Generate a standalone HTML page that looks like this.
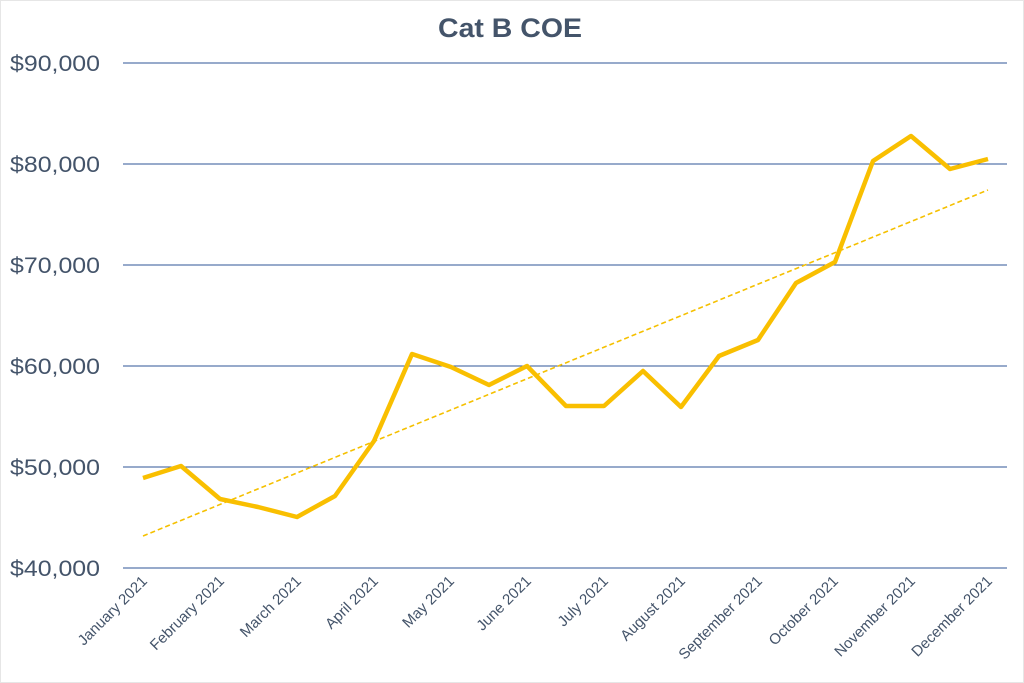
<!DOCTYPE html>
<html><head><style>
body{margin:0;background:#fff;}
svg{display:block;font-family:"Liberation Sans",sans-serif;}
</style></head><body>
<svg width="1024" height="683" viewBox="0 0 1024 683">
<rect x="0.5" y="0.5" width="1023" height="682" fill="#fff" stroke="#e6e6e6"/>
<text x="510" y="37" text-anchor="middle" font-size="27" font-weight="bold" fill="#44546a" textLength="144" lengthAdjust="spacingAndGlyphs">Cat B COE</text>
<g stroke="#2f5597" stroke-width="1">
<line x1="123" y1="63" x2="1007" y2="63"/>
<line x1="123" y1="164" x2="1007" y2="164"/>
<line x1="123" y1="265" x2="1007" y2="265"/>
<line x1="123" y1="366" x2="1007" y2="366"/>
<line x1="123" y1="467" x2="1007" y2="467"/>
<line x1="123" y1="568" x2="1007" y2="568"/>
</g>
<g font-size="22" fill="#44546a">
<text x="10" y="71" textLength="90" lengthAdjust="spacingAndGlyphs">$90,000</text>
<text x="10" y="172" textLength="90" lengthAdjust="spacingAndGlyphs">$80,000</text>
<text x="10" y="273" textLength="90" lengthAdjust="spacingAndGlyphs">$70,000</text>
<text x="10" y="374" textLength="90" lengthAdjust="spacingAndGlyphs">$60,000</text>
<text x="10" y="475" textLength="90" lengthAdjust="spacingAndGlyphs">$50,000</text>
<text x="10" y="576" textLength="90" lengthAdjust="spacingAndGlyphs">$40,000</text>
</g>
<line x1="143" y1="536" x2="988" y2="190" stroke="#f5c000" stroke-width="1.6" stroke-dasharray="5,3"/>
<polyline fill="none" stroke="#f9bf00" stroke-width="4.5" stroke-linejoin="round" points="143,478 181,466 220,499 258,507 297,517 335,496 374,441 412,354 451,367 489,385 527,366 566,406 604,406 643,371 681,407 719,356 758,340 796,283 835,262 873,161 911,136 950,169 988,159"/>
<g font-size="15" fill="#44546a" text-anchor="end">
<text transform="translate(148,582) rotate(-45)">January 2021</text>
<text transform="translate(225,582) rotate(-45)">February 2021</text>
<text transform="translate(302,582) rotate(-45)">March 2021</text>
<text transform="translate(379,582) rotate(-45)">April 2021</text>
<text transform="translate(455,582) rotate(-45)">May 2021</text>
<text transform="translate(532,582) rotate(-45)">June 2021</text>
<text transform="translate(609,582) rotate(-45)">July 2021</text>
<text transform="translate(686,582) rotate(-45)">August 2021</text>
<text transform="translate(763,582) rotate(-45)">September 2021</text>
<text transform="translate(839,582) rotate(-45)">October 2021</text>
<text transform="translate(916,582) rotate(-45)">November 2021</text>
<text transform="translate(993,582) rotate(-45)">December 2021</text>
</g>
</svg>
</body></html>
